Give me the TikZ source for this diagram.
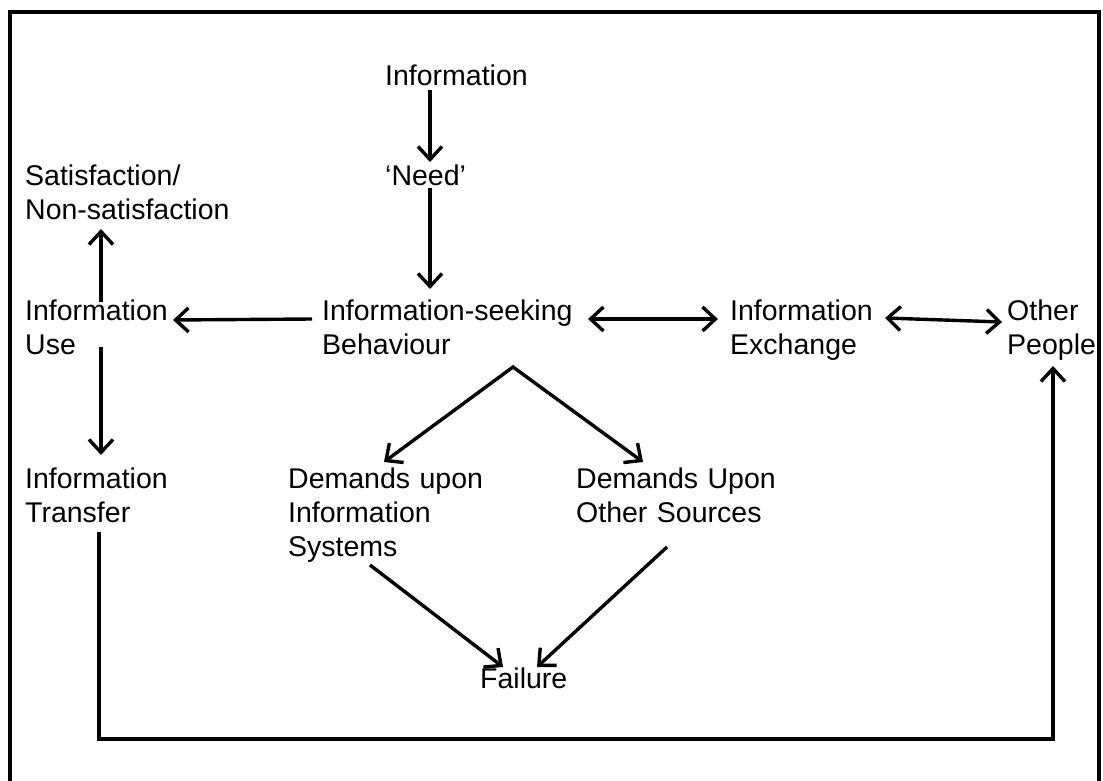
\documentclass[tikz,border=0pt]{standalone}
\usepackage{fontspec}
\setmainfont{Liberation Sans}
\usetikzlibrary{arrows.meta,calc}
\begin{document}
\begin{tikzpicture}[x=1pt,y=-1pt,
  lbl/.style={anchor=base west,inner sep=0pt,font=\fontsize{28.5}{34}\selectfont,align=left},
  arr/.style={line width=3.4pt,-{Straight Barb[length=13pt,width=24pt]}},
  darr/.style={line width=3.4pt,{Straight Barb[length=13pt,width=24pt]}-{Straight Barb[length=13pt,width=24pt]}},
  frame/.style={line width=3.8pt}]
\useasboundingbox (0,0) rectangle (1103,781);
\draw[frame] (10,781) -- (10,12) -- (1099,12) -- (1099,781);
\node[lbl] (info) at (385,86) {Information};
\node[lbl] (need) at (385,185) {‘Need’};
\node[lbl,text width=300pt] (sat) at (25,185) {Satisfaction/\\Non-satisfaction};
\node[lbl,text width=160pt] (use) at (25,320) {Information\\Use};
\node[lbl,text width=280pt] (isb) at (322,320) {Information-seeking\\Behaviour};
\node[lbl,text width=160pt] (exch) at (730,320) {Information\\Exchange};
\node[lbl,text width=95pt] (other) at (1007,320) {Other\\People};
\node[lbl,text width=160pt] (transfer) at (25,488) {Information\\Transfer};
\node[lbl,text width=220pt] (dsys) at (288,488) {Demands upon\\Information\\Systems};
\node[lbl,text width=220pt] (dsrc) at (576,488) {Demands Upon\\Other Sources};
\node[lbl] (fail) at (480,688) {Failure};
\coordinate (apex) at ($(isb.base west)+(191,47)$);
\coordinate (bottom) at (550,739);
\draw[arr] ($(info.base west)+(45,4)$) -- ($(need.base west)+(45,-23)$);
\draw[arr] ($(need.base west)+(45,3)$) -- ($(isb.base west)+(108,-31)$);
\draw[arr] ($(isb.base west)+(-10,-1)$) -- ($(use.base west)+(148,0)$);
\draw[arr] ($(use.base west)+(76,-18)$) -- ($(sat.base west)+(76,44)$);
\draw[arr] ($(use.base west)+(76,27)$) -- ($(transfer.base west)+(76,-33)$);
\draw[darr] ($(isb.base west)+(266,-1)$) -- ($(exch.base west)+(-12,-1)$);
\draw[darr] ($(exch.base west)+(155,-2)$) -- ($(other.base west)+(-5,2)$);
\draw[darr,line join=miter] ($(dsys.base west)+(96,-26)$) -- (apex) -- ($(dsrc.base west)+(67,-26)$);
\draw[arr] ($(dsys.base west)+(82,77)$) -- ($(fail.base west)+(23,-21)$);
\draw[arr] ($(dsrc.base west)+(91,59)$) -- ($(fail.base west)+(57,-21)$);
\coordinate (fbstart) at ($(transfer.base west)+(74,44)$);
\coordinate (fbend) at ($(other.base west)+(46,46)$);
\draw[arr] (fbstart) -- (fbstart |- bottom) -| (fbend);
\end{tikzpicture}
\end{document}
